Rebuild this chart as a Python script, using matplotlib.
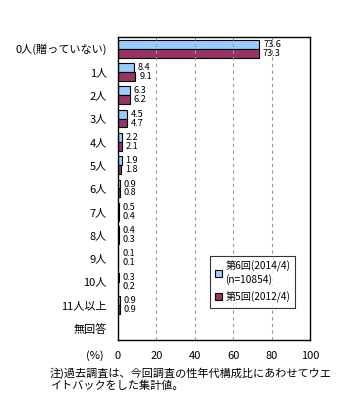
import numpy as np
import matplotlib.pyplot as plt

plt.rcParams['font.family'] = ['Noto Sans CJK JP', 'DejaVu Sans']

categories = ['0人(贈っていない)', '1人', '2人', '3人', '4人', '5人', '6人',
              '7人', '8人', '9人', '10人', '11人以上', '無回答']
r6 = [73.6, 8.4, 6.3, 4.5, 2.2, 1.9, 0.9, 0.5, 0.4, 0.1, 0.3, 0.9, None]
r5 = [73.3, 9.1, 6.2, 4.7, 2.1, 1.8, 0.8, 0.4, 0.3, 0.1, 0.2, 0.9, None]
label6 = '第6回(2014/4)\n(n=10854)'
label5 = '第5回(2012/4)'
xticks = [0, 20, 40, 60, 80, 100]

fig = plt.figure(figsize=(3.4, 4.18), dpi=100)
ax = fig.add_axes([118/340, 1-340/418, 192/340, 303/418])

y = np.arange(len(categories))
h = 0.38
v6 = [v if v is not None else 0 for v in r6]
v5 = [v if v is not None else 0 for v in r5]
b6 = ax.barh(y - h/2, v6, height=h, color='#99ccff', edgecolor='black', linewidth=0.8, label=label6)
b5 = ax.barh(y + h/2, v5, height=h, color='#993366', edgecolor='black', linewidth=0.8, label=label5)
for i in range(len(categories)):
    if r6[i] is None:
        b6[i].set_visible(False)
        b5[i].set_visible(False)
        continue
    ax.text(v6[i] + 2, y[i] - h/2, f'{r6[i]:.1f}', va='center', ha='left', fontsize=6.6)
    ax.text(v5[i] + 2, y[i] + h/2, f'{r5[i]:.1f}', va='center', ha='left', fontsize=6.6)

ax.set_ylim(len(categories) - 0.5, -0.5)
ax.set_xlim(0, 100)
ax.set_yticks(y)
ax.set_yticklabels(categories, fontsize=8)
ax.set_xticks(xticks)
ax.set_xticklabels([str(t) for t in xticks], fontsize=8)
ax.tick_params(axis='both', length=0, pad=8)
for t in xticks[1:-1]:
    ax.axvline(t, color='#999999', linestyle=(0, (3, 3)), linewidth=0.8)
for s in ax.spines.values():
    s.set_linewidth(1)

fig.text(95/340, 1-356/418, '(%)', ha='center', va='center', fontsize=8)
fig.text(50/340, 1-373/418, '注)過去調査は、今回調査の性年代構成比にあわせてウエ', ha='left', va='center', fontsize=8)
fig.text(50/340, 1-386/418, 'イトバックをした集計値。', ha='left', va='center', fontsize=8)

leg = ax.legend(loc='upper left', bbox_to_anchor=(87/192, 1-(251-37)/303), fontsize=7.3,
                frameon=True, fancybox=False, edgecolor='black', handlelength=0.7,
                handletextpad=0.3, borderpad=0.5, labelspacing=0.6)
leg.get_frame().set_linewidth(0.8)

fig.savefig('out.png', dpi=100)
